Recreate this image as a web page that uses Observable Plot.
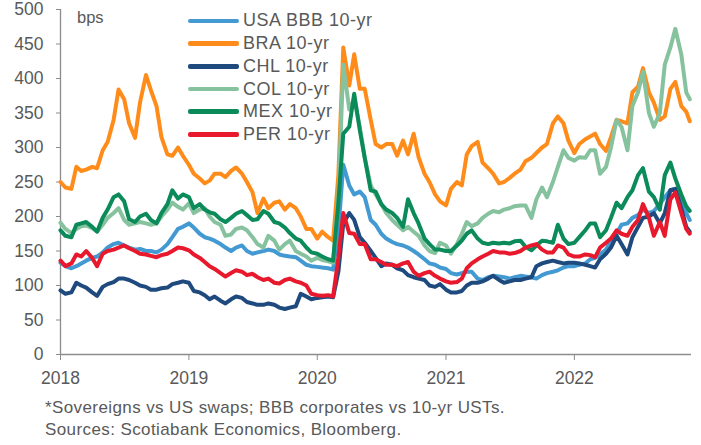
<!DOCTYPE html>
<html><head><meta charset="utf-8">
<script src="https://cdn.jsdelivr.net/npm/d3@7"></script>
<script src="https://cdn.jsdelivr.net/npm/@observablehq/plot@0.6"></script>
<style>
body{margin:0;background:#fff;font-family:"Liberation Sans",Arial,sans-serif;}
#wrap{position:relative;width:701px;height:445px;overflow:hidden;}
#legend{position:absolute;left:188px;top:9.6px;}
.row{height:22.7px;display:flex;align-items:center;font-size:18px;letter-spacing:0.5px;color:#595959;white-space:nowrap;}
.sw{width:51px;height:4.5px;margin-right:4px;border-radius:2px;}
#bps{position:absolute;left:77px;top:8px;font-size:16.5px;color:#595959;}
#caption{position:absolute;left:45px;top:397px;font-size:17px;letter-spacing:0.4px;color:#595959;line-height:22px;white-space:nowrap;}
</style></head>
<body>
<div id="wrap">
  <div id="chart"></div>
  <div id="bps">bps</div>
  <div id="legend"></div>
  <div id="caption">*Sovereigns vs US swaps; BBB corporates vs 10-yr USTs.<br>Sources: Scotiabank Economics, Bloomberg.</div>
</div>
<script>
// Series names and colours
const seriesNames = ["USA BBB 10-yr","BRA 10-yr","CHL 10-yr","COL 10-yr","MEX 10-yr","PER 10-yr"];
const seriesColors = ["#4399d2","#ff8c1a","#1f4a7e","#87c29f","#0b8a5a","#e8192c"];
const yTicks = [0,50,100,150,200,250,300,350,400,450,500];
const xTickYears = [2018,2019,2020,2021,2022];

// Semi-monthly observation dates (1st and 15th), Jan 2018 – Nov 2022
const dates = [];
for (let y = 2018; y <= 2022; y++) for (let m = 0; m < 12; m++) for (const d of [1, 15]) {
  const dt = new Date(Date.UTC(y, m, d));
  if (dt <= new Date(Date.UTC(2022, 10, 15))) dates.push(dt);
}
dates.push(new Date(Date.UTC(2022, 10, 25)));

// Values (bps), one per date
const usaBBB = [
 133,128,125,128,132,136,140,142,148,155,160,162,158,155,152,153,150,150,148,152,160,170,182,185,
 190,184,175,170,168,165,160,155,150,155,158,150,146,148,150,152,150,145,143,142,141,136,130,128,
 127,126,125,123,180,275,245,232,236,228,195,188,175,168,163,160,158,155,150,145,138,132,130,126,
 124,118,116,118,120,120,110,108,112,114,113,112,110,112,114,113,112,110,115,118,120,122,126,128,
 128,130,132,138,140,145,152,165,175,188,190,198,202,210,205,208,218,228,238,240,222,205,195];
const bra = [
 250,242,240,272,266,268,272,270,296,308,340,384,370,335,314,365,405,383,360,315,290,288,300,288,
 275,262,255,248,252,262,262,257,266,271,262,250,235,205,226,212,220,222,210,218,212,200,182,182,
 168,178,170,165,260,445,390,435,385,385,340,305,300,305,305,288,310,290,320,286,262,250,232,222,
 216,240,250,245,290,302,308,278,270,262,248,250,256,262,268,280,285,292,300,305,335,345,335,310,
 292,305,312,316,320,305,295,315,340,338,335,380,388,415,380,365,340,345,385,395,360,352,338];
const chl = [
 93,88,90,104,100,97,90,85,98,102,105,110,110,108,104,100,98,94,94,96,97,102,104,106,
 104,92,90,86,80,84,78,74,80,84,82,76,74,72,72,74,72,68,66,68,70,88,84,80,
 82,83,84,83,120,190,205,195,170,162,150,140,128,132,130,125,122,115,112,110,108,100,98,102,
 94,90,90,92,100,104,104,106,110,114,108,104,106,108,108,110,112,128,132,134,136,134,132,133,
 133,132,130,128,126,138,146,155,172,160,145,170,185,198,200,205,190,205,238,240,212,185,178];
const col = [
 191,182,176,182,186,187,183,178,188,198,205,212,195,188,190,192,190,188,190,200,210,220,214,210,
 219,205,210,212,200,192,188,172,174,182,184,180,170,160,155,172,165,152,160,165,150,146,142,136,
 140,137,135,133,230,420,355,370,330,285,245,232,218,205,195,188,180,185,178,172,158,150,147,162,
 158,146,160,175,192,186,190,198,204,208,206,210,212,215,216,216,198,225,242,228,250,272,296,285,
 281,286,285,296,296,262,272,300,340,330,296,360,380,410,350,330,350,420,445,472,435,380,370];
const mex = [
 180,172,170,188,190,192,185,178,198,210,228,232,222,196,192,200,204,195,190,205,218,238,226,232,
 228,212,218,210,206,204,196,192,198,204,208,202,195,196,208,204,192,190,184,176,168,165,155,148,
 146,142,138,136,220,320,330,378,325,285,238,236,218,210,205,198,185,225,205,190,168,160,152,152,
 150,150,158,165,175,180,168,162,160,162,161,162,161,164,165,156,151,158,165,164,162,188,168,160,
 162,170,180,190,190,170,180,198,220,212,228,238,260,270,236,228,210,260,278,255,232,215,208];
const per = [
 136,128,132,145,142,150,140,128,146,150,152,155,158,154,150,146,145,143,141,144,146,150,155,154,
 151,145,140,134,128,124,118,113,118,122,120,115,117,112,108,110,104,103,108,110,106,104,100,88,
 86,85,86,84,140,205,176,175,160,160,138,138,134,130,130,128,132,134,120,114,118,120,114,110,
 106,104,105,110,125,132,138,142,146,150,148,148,146,147,150,155,158,160,152,148,148,158,155,145,
 142,142,145,144,141,155,162,168,180,175,172,185,195,218,198,172,192,172,225,235,205,182,175];

const seriesValues = [usaBBB, bra, chl, col, mex, per];
const rows = [];
seriesNames.forEach((name, i) => {
  seriesValues[i].forEach((v, j) => rows.push({series: name, date: dates[j], value: v}));
});

const axisColor = "#8c8c8c";
const xStart = new Date(Date.UTC(2018, 0, 1));
const xEnd = new Date(Date.UTC(2022, 10, 30));
const xTickDates = xTickYears.map(y => new Date(Date.UTC(y, 0, 1)));

const chart = Plot.plot({
  width: 701, height: 392,
  marginTop: 9, marginBottom: 38, marginLeft: 60, marginRight: 10,
  style: {fontFamily: '"Liberation Sans", Arial, sans-serif', fontSize: "17.5px", color: "#595959", background: "white", overflow: "visible"},
  x: {type: "utc", domain: [xStart, xEnd]},
  y: {domain: [0, 500]},
  color: {domain: seriesNames, range: seriesColors},
  marks: [
    Plot.axisY({ticks: yTicks, tickSize: 4, tickPadding: 13, stroke: axisColor, fill: "#595959", label: null}),
    Plot.axisX({ticks: xTickDates, tickFormat: d3.utcFormat("%Y"), tickSize: 6, tickPadding: 11, stroke: axisColor, fill: "#595959", label: null}),
    Plot.ruleY([0], {stroke: axisColor, strokeWidth: 1.3}),
    Plot.ruleX([xStart], {stroke: axisColor, strokeWidth: 1.3}),
    Plot.line(rows, {x: "date", y: "value", z: "series", stroke: "series", strokeWidth: 4, strokeLinejoin: "round", strokeLinecap: "round"})
  ]
});
document.getElementById("chart").appendChild(chart);

const legend = document.getElementById("legend");
seriesNames.forEach((name, i) => {
  const row = document.createElement("div");
  row.className = "row";
  const sw = document.createElement("span");
  sw.className = "sw";
  sw.style.background = seriesColors[i];
  row.appendChild(sw);
  row.appendChild(document.createTextNode(name));
  legend.appendChild(row);
});
</script>
</body></html>
